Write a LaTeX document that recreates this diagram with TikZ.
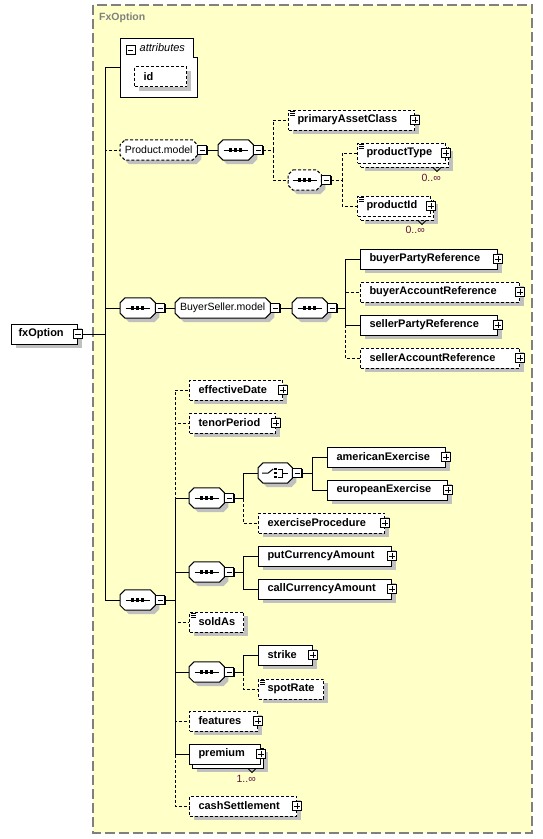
\documentclass[tikz,border=0pt]{standalone}
\usepackage{fontspec}
\setmainfont{Liberation Sans}
\usetikzlibrary{shadows}
\definecolor{bgyellow}{RGB}{255,255,200}
\definecolor{shadowgray}{RGB}{192,192,192}
\definecolor{framegray}{RGB}{128,128,128}
\definecolor{multcol}{RGB}{96,16,64}
\newcommand\elfont{\bfseries\fontsize{11}{13}\selectfont}
\newcommand\rgfont{\fontsize{10.5}{12}\selectfont}
\newcommand\wbox[2]{\makebox[#1pt][l]{#2}}
\newcommand\octp[1]{([xshift=5pt]#1.north west) -- ([xshift=-5pt]#1.north east) -- ([yshift=-5pt]#1.north east) -- ([yshift=5pt]#1.south east) -- ([xshift=-5pt]#1.south east) -- ([xshift=5pt]#1.south west) -- ([yshift=5pt]#1.south west) -- ([yshift=-5pt]#1.north west) -- cycle}
\pgfdeclarelayer{background}
\pgfsetlayers{background,main}
\tikzset{
  dsh/.style={dash pattern=on 3pt off 2pt},
  base/.style={draw=black, fill=white, line width=1pt, minimum height=20pt, inner xsep=9pt, inner ysep=0pt, anchor=west, font=\elfont},
  shad/.style={general shadow={fill=shadowgray, shadow xshift=4pt, shadow yshift=-4pt}},
  stackshad/.style={general shadow={fill=shadowgray, shadow xshift=7pt, shadow yshift=-8pt}, general shadow={fill=white, draw=black, line width=1pt, #1, shadow xshift=3pt, shadow yshift=-4pt}},
  req/.style={base, shad},
  opt/.style={base, dsh, shad},
  reqm/.style={base, stackshad=solid},
  optm/.style={base, dsh, stackshad=dsh},
  octn/.style={minimum height=20pt, inner sep=0pt, anchor=west, font=\rgfont},
  pmbox/.style={draw=black, fill=white, line width=1pt, minimum size=9pt, inner sep=0pt, outer sep=0pt, solid, general shadow={fill=black, shadow xshift=0.8pt, shadow yshift=-0.8pt}},
  plusb/.style={pmbox, path picture={\draw[line width=1pt] ([xshift=1.8pt]path picture bounding box.west) -- ([xshift=-1.8pt]path picture bounding box.east) ([yshift=-1.8pt]path picture bounding box.north) -- ([yshift=1.8pt]path picture bounding box.south);}},
  minusb/.style={pmbox, path picture={\draw[line width=1pt] ([xshift=1.8pt]path picture bounding box.west) -- ([xshift=-1.8pt]path picture bounding box.east);}},
  con/.style={draw=black, line width=1pt},
  dcon/.style={con, dsh},
  mult/.style={font=\rgfont, text=multcol, anchor=east, inner sep=0pt},
}
\begin{document}
\begin{tikzpicture}[x=1pt,y=-1pt]
\useasboundingbox (0,0) rectangle (543,839);
\begin{pgfonlayer}{background}
\fill[white] (0,0) rectangle (543,839);
\draw[framegray, fill=bgyellow, line width=1.5pt, dash pattern=on 10pt off 4pt] (93,5) rectangle (532,833);
\end{pgfonlayer}
\node[font=\bfseries\fontsize{10.5}{12}\selectfont, text=framegray, anchor=west, inner sep=0pt] (title) at (99,18) {FxOption};

% root
\node[req, inner xsep=7pt] (fx) at (11,334) {\wbox{52}{fxOption}};
\node[minusb] (fxm) at (fx.east) {};

% attributes
\node[inner sep=0pt, minimum width=77pt, minimum height=59pt, anchor=north west] (attr) at (120,38) {};
\draw[line width=1pt, fill=white] (attr.north west) -- ([xshift=-4pt]attr.north east) -- ([xshift=-4pt,yshift=-19pt]attr.north east) -- ([yshift=-19pt]attr.north east) -- (attr.south east) -- (attr.south west) -- cycle;
\node[minusb] (attrm) at (130.5,50) {};
\node[font=\itshape\fontsize{11}{13}\selectfont, anchor=west, inner sep=0pt] (attrt) at (139.5,48) {attributes};
\node[opt] (id) at (134,76.5) {\wbox{34}{id}};

% Product.model
\node[octn, minimum width=77pt] (pm) at (120,150) {Product.model};
\node[minusb] (pmm) at ([xshift=5pt]pm.east) {};
\node[octn, minimum width=35pt] (s1) at (218,150) {};
\node[minusb] (s1m) at ([xshift=5pt]s1.east) {};
\node[opt] (pac) at (288,120) {\wbox{108}{primaryAssetClass}};
\node[plusb] (pacp) at (pac.east) {};
\node[octn, minimum width=33pt] (s2) at (288,180) {};
\node[minusb] (s2m) at ([xshift=5pt]s2.east) {};
\node[optm] (pt) at (357,153) {\wbox{70}{productType}};
\node[plusb] (ptp) at (pt.east) {};
\node[mult] (ptmult) at ([xshift=-5pt,yshift=-14pt]pt.south east) {0..∞};
\node[optm] (pid) at (357,206) {\wbox{55}{productId}};
\node[plusb] (pidp) at (pid.east) {};
\node[mult] (pidmult) at ([xshift=-6pt,yshift=-13pt]pid.south east) {0..∞};

% BuyerSeller.model
\node[octn, minimum width=35pt] (bs0) at (120,308) {};
\node[minusb] (bs0m) at ([xshift=5pt]bs0.east) {};
\node[octn, minimum width=95pt] (bsm) at (175,308) {BuyerSeller.model};
\node[minusb] (bsmm) at ([xshift=5pt]bsm.east) {};
\node[octn, minimum width=35pt] (bs1) at (292,308) {};
\node[minusb] (bs1m) at ([xshift=5pt]bs1.east) {};
\node[req] (bpr) at (360,259) {\wbox{119}{buyerPartyReference}};
\node[plusb] (bprp) at (bpr.east) {};
\node[opt] (bar) at (360,292) {\wbox{141}{buyerAccountReference}};
\node[plusb] (barp) at (bar.east) {};
\node[req] (spr) at (360,325) {\wbox{119}{sellerPartyReference}};
\node[plusb] (sprp) at (spr.east) {};
\node[opt] (sar) at (360,358) {\wbox{141}{sellerAccountReference}};
\node[plusb] (sarp) at (sar.east) {};

% main sequence
\node[octn, minimum width=35pt] (ms) at (120,600) {};
\node[minusb] (msm) at ([xshift=5pt]ms.east) {};
\node[opt] (ed) at (189,390) {\wbox{75}{effectiveDate}};
\node[plusb] (edp) at (ed.east) {};
\node[opt] (tp) at (189,423) {\wbox{68}{tenorPeriod}};
\node[plusb] (tpp) at (tp.east) {};
\node[octn, minimum width=35pt] (ex) at (189,498) {};
\node[minusb] (exm) at ([xshift=5pt]ex.east) {};
\node[octn, minimum width=34pt] (ch) at (258,473) {};
\node[minusb] (chm) at ([xshift=5pt]ch.east) {};
\node[req] (ae) at (327,457) {\wbox{100}{americanExercise}};
\node[plusb] (aep) at (ae.east) {};
\node[req] (ee) at (327,490) {\wbox{102}{europeanExercise}};
\node[plusb] (eep) at (ee.east) {};
\node[opt] (ep) at (258,523) {\wbox{108}{exerciseProcedure}};
\node[plusb] (epp) at (ep.east) {};
\node[octn, minimum width=35pt] (cur) at (189,572) {};
\node[minusb] (curm) at ([xshift=5pt]cur.east) {};
\node[req] (pca) at (258,556) {\wbox{115}{putCurrencyAmount}};
\node[plusb] (pcap) at (pca.east) {};
\node[req] (cca) at (258,589) {\wbox{115}{callCurrencyAmount}};
\node[plusb] (ccap) at (cca.east) {};
\node[opt] (sold) at (189,622) {\wbox{36}{soldAs}};
\node[octn, minimum width=35pt] (st) at (189,672) {};
\node[minusb] (stm) at ([xshift=5pt]st.east) {};
\node[req] (strike) at (258,655) {\wbox{36}{strike}};
\node[plusb] (strikep) at (strike.east) {};
\node[opt] (spot) at (258,689) {\wbox{47}{spotRate}};
\node[opt] (feat) at (189,721) {\wbox{50}{features}};
\node[plusb] (featp) at (feat.east) {};
\node[reqm] (prem) at (189,754) {\wbox{53}{premium}};
\node[plusb] (premp) at (prem.east) {};
\node[mult] (premmult) at ([xshift=-5pt,yshift=-14pt]prem.south east) {1..∞};
\node[opt] (cash) at (189,806) {\wbox{89}{cashSettlement}};
\node[plusb] (cashp) at (cash.east) {};

% simple-content icons
\foreach \n in {pac,pt,pid,sold,spot} {
  \foreach \d in {2,4,6} \draw[line width=0.8pt] ([xshift=2pt,yshift=-\d pt]\n.north west) -- ++(5,0);
}
% multiplicity notches
\foreach \n in {pt,pid,prem} {
  \draw[line width=0.8pt] ([xshift=-13pt,yshift=-4pt]\n.south east) -- ++(4,4) -- ++(4,-4);
}

% bus coordinates
\coordinate (bA) at (105,0);
\coordinate (bP) at (273,0);
\coordinate (bQ) at (342,0);
\coordinate (bB) at (345,0);
\coordinate (bM) at (175,0);
\coordinate (bX) at (243,0);
\coordinate (bC) at (312,0);

% connectors
\draw[con]  (fxm.east) -- (bA |- fxm.east) |- (attr.west);
\draw[dcon] (fxm.east) -- (bA |- fxm.east) |- (pm.west);
\draw[con]  (fxm.east) -- (bA |- fxm.east) |- (bs0.west);
\draw[con]  (fxm.east) -- (bA |- fxm.east) |- (ms.west);
\draw[con]  (pmm.east) -- (s1.west);
\draw[dcon] (s1m.east) -- (bP |- s1m.east) |- (pac.west);
\draw[dcon] (s1m.east) -- (bP |- s1m.east) |- (s2.west);
\draw[dcon] (s2m.east) -- (bQ |- s2m.east) |- (pt.west);
\draw[dcon] (s2m.east) -- (bQ |- s2m.east) |- (pid.west);
\draw[con]  (bs0m.east) -- (bsm.west);
\draw[con]  (bsmm.east) -- (bs1.west);
\draw[dcon] (bs1m.east) -- (bB |- bs1m.east) |- (sar.west);
\draw[dcon] (bs1m.east) -- (bB |- bs1m.east) |- (bar.west);
\draw[con]  (bs1m.east) -- (bB |- bs1m.east) |- (bpr.west);
\draw[con]  (bs1m.east) -- (bB |- bs1m.east) |- (spr.west);
\draw[dcon] (msm.east) -- (bM |- msm.east) |- (ed.west);
\draw[dcon] (msm.east) -- (bM |- msm.east) |- (tp.west);
\draw[dcon] (msm.east) -- (bM |- msm.east) |- (sold.west);
\draw[dcon] (msm.east) -- (bM |- msm.east) |- (feat.west);
\draw[dcon] (msm.east) -- (bM |- msm.east) |- (cash.west);
\draw[con]  (msm.east) -- (bM |- msm.east) |- (ex.west);
\draw[con]  (msm.east) -- (bM |- msm.east) |- (cur.west);
\draw[con]  (msm.east) -- (bM |- msm.east) |- (st.west);
\draw[con]  (msm.east) -- (bM |- msm.east) |- (prem.west);
\draw[dcon] (exm.east) -- (bX |- exm.east) |- (ep.west);
\draw[con]  (exm.east) -- (bX |- exm.east) |- (ch.west);
\draw[con]  (chm.east) -- (bC |- chm.east) |- (ae.west);
\draw[con]  (chm.east) -- (bC |- chm.east) |- (ee.west);
\draw[con]  (curm.east) -- (bX |- curm.east) |- (pca.west);
\draw[con]  (curm.east) -- (bX |- curm.east) |- (cca.west);
\draw[dcon] (stm.east) -- (bX |- stm.east) |- (spot.west);
\draw[con]  (stm.east) -- (bX |- stm.east) |- (strike.west);

% octagon shapes (model groups and compositors)
\begin{pgfonlayer}{background}
\foreach \n/\st in {pm/dsh, s1/solid, s2/dsh, bs0/solid, bsm/solid, bs1/solid, ms/solid, ex/solid, ch/solid, cur/solid, st/solid} {
  \fill[shadowgray, transform canvas={xshift=4pt,yshift=-4pt}] \octp{\n};
  \draw[line width=1pt, fill=white, \st] \octp{\n};
}
\end{pgfonlayer}

% sequence symbols
\foreach \n in {s1,s2,bs0,bs1,ms,ex,cur,st} {
  \draw[line width=1pt] ([xshift=-12pt]\n.center) -- ([xshift=12pt]\n.center);
  \foreach \d in {-5,0,5} \fill ([xshift=\d pt]\n.center) ++(-1.6pt,-1.6pt) rectangle ++(3.2pt,3.2pt);
}
% choice symbol
\begin{scope}[shift={(ch.center)}]
  \draw[line width=1pt] (-13,0) -- (-7,0) -- (-2,-4);
  \foreach \dy in {-4,0,4} \fill (0.5,\dy) ++(-1.3,-1.3) rectangle ++(2.6,2.6);
  \draw[line width=1pt] (3,-4) -- (7,-4) -- (7,4) -- (3,4) (7,0) -- (13,0);
\end{scope}
\end{tikzpicture}
\end{document}
